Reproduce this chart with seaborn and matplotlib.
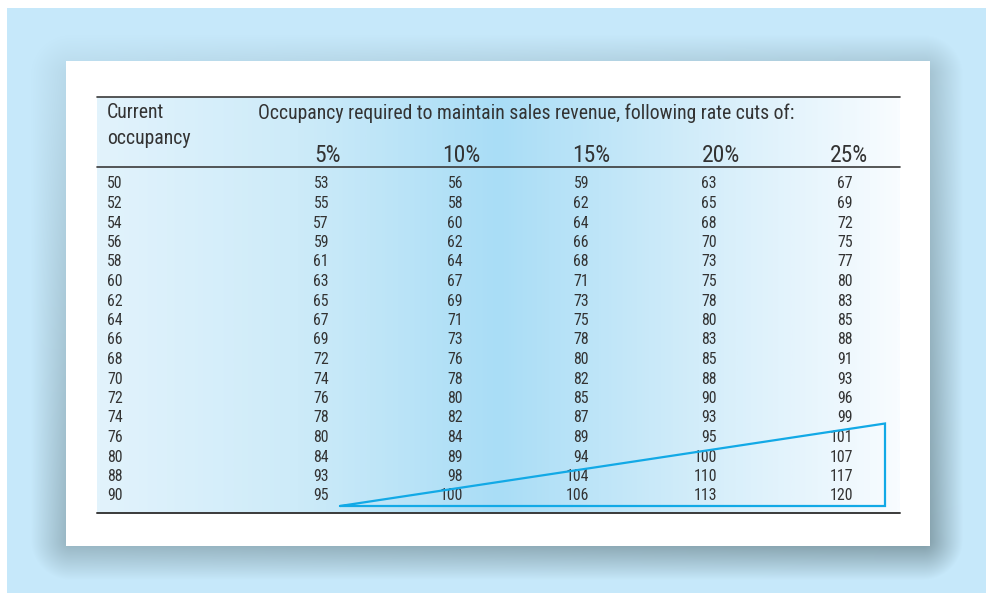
import numpy as np
import pandas as pd
import seaborn as sns
import matplotlib.pyplot as plt
from matplotlib import font_manager
from matplotlib.colors import LinearSegmentedColormap, to_rgb
from matplotlib.patches import Rectangle

# table data
current = [50, 52, 54, 56, 58, 60, 62, 64, 66, 68, 70, 72, 74, 76, 80, 88, 90]
cut5 = [53, 55, 57, 59, 61, 63, 65, 67, 69, 72, 74, 76, 78, 80, 84, 93, 95]
cut10 = [56, 58, 60, 62, 64, 67, 69, 71, 73, 76, 78, 80, 82, 84, 89, 98, 100]
cut15 = [59, 62, 64, 66, 68, 71, 73, 75, 78, 80, 82, 85, 87, 89, 94, 104, 106]
cut20 = [63, 65, 68, 70, 73, 75, 78, 80, 83, 85, 88, 90, 93, 95, 100, 110, 113]
cut25 = [67, 69, 72, 75, 77, 80, 83, 85, 88, 91, 93, 96, 99, 101, 107, 117, 120]
cut_labels = ['5%', '10%', '15%', '20%', '25%']
header = 'Occupancy required to maintain sales revenue, following rate cuts of:'

df = pd.DataFrame({'current': current, '5%': cut5, '10%': cut10,
                   '15%': cut15, '20%': cut20, '25%': cut25})

sns.set_theme(style='white')

# pick the narrowest installed family
family = 'DejaVu Sans'
for cand in ['Liberation Sans Narrow', 'Roboto Condensed', 'Open Sans Condensed',
             'DejaVu Sans Condensed', 'Roboto']:
    try:
        font_manager.findfont(font_manager.FontProperties(family=cand), fallback_to_default=False)
        family = cand
        break
    except Exception:
        pass
plt.rcParams['font.family'] = [family, 'DejaVu Sans']

W, H = 986, 593
fig = plt.figure(figsize=(W / 100, H / 100), dpi=100)
ax = fig.add_axes([0, 0, 1, 1])
ax.set_xlim(0, W)
ax.set_ylim(H, 0)
ax.axis('off')

# scale text so the long header spans the same width as in the reference
probe = ax.text(0, 0, header, fontsize=13)
fig.canvas.draw()
k = 535 / probe.get_window_extent().width
probe.remove()
k = min(k, 1.15)

# page background with soft rounded shadow frame
bg = np.array(to_rgb('#c6e8fa'))
shade = np.array(to_rgb('#84a0ab'))
yy, xx = np.mgrid[0:H, 0:W] + 0.5
x0, x1, y0, y1, r = 31, 963, 35, 580, 40
cx, cy = (x0 + x1) / 2, (y0 + y1) / 2
qx = np.abs(xx - cx) - ((x1 - x0) / 2 - r)
qy = np.abs(yy - cy) - ((y1 - y0) / 2 - r)
sd = np.hypot(np.maximum(qx, 0), np.maximum(qy, 0)) + np.minimum(np.maximum(qx, qy), 0) - r
depth = np.clip(-sd / 35, 0, 1)
weight = np.clip(0.15 + 0.55 * (yy - y0) / (y1 - y0) + 0.35 * (xx - x0) / (x1 - x0), 0, 1)
a = (depth * weight)[..., None]
img = bg * (1 - a) + shade * a
img[:8, :] = 1
img[:, :7] = 1
ax.imshow(img, extent=(0, W, H, 0), aspect='auto', interpolation='bilinear', zorder=0)

# white card
ax.add_patch(Rectangle((66, 61), 864, 485, facecolor='white', edgecolor='none', zorder=1))

# table background gradient
tl, tr, tt, tb = 97, 900, 97, 513
cmap = LinearSegmentedColormap.from_list('tbl', ['#e2f3fc', '#cdebf9', '#a9ddf6', '#d3edfa', '#f8fcff'])
grad = np.linspace(0, 1, 400)[None, :]
ax.imshow(grad, extent=(tl, tr, tb, tt), aspect='auto', cmap=cmap, zorder=2)

rule = '#3a3a3a'
ax.plot([tl, tr], [97, 97], color=rule, lw=1.2, zorder=4)
ax.plot([tl, tr], [167, 167], color=rule, lw=1.2, zorder=4)
ax.plot([tl, tr], [513, 513], color=rule, lw=1.4, zorder=4)

txt = '#333333'
fs_head, fs_pct, fs_cell = 13 * k, 15.5 * k, 10.5 * k
ax.text(107, 113, 'Current', fontsize=fs_head, color=txt, va='center', zorder=5)
ax.text(107, 139, 'occupancy', fontsize=fs_head, color=txt, va='center', zorder=5)
ax.text(258, 113, header, fontsize=fs_head, color=txt, va='center', zorder=5)

head_right = [341, 480, 610, 740, 868]
col_right = [329, 463, 589, 717, 853]
for lab, hx in zip(cut_labels, head_right):
    ax.text(hx, 156, lab, fontsize=fs_pct, color=txt, ha='right', va='center', zorder=5)

row_y0, row_dy = 184, 19.5
for i, row in df.iterrows():
    y = row_y0 + i * row_dy
    ax.text(107, y, str(row['current']), fontsize=fs_cell, color=txt, va='center', zorder=5)
    for lab, cxr in zip(cut_labels, col_right):
        ax.text(cxr, y, str(row[lab]), fontsize=fs_cell, color=txt, ha='right', va='center', zorder=5)

# triangle marking where required occupancy reaches 100%
first_over = df.index[df['25%'] >= 100][0]
y_top = row_y0 + first_over * row_dy - 14
y_bot = row_y0 + (len(df) - 1) * row_dy + 10
tri = pd.DataFrame({'x': [340, 885, 885, 340], 'y': [y_bot, y_top, y_bot, y_bot]})
ax.plot(tri['x'], tri['y'], color='#12a9e6', lw=1.6, zorder=6, solid_joinstyle='miter')

fig.savefig('out.png', dpi=100)
